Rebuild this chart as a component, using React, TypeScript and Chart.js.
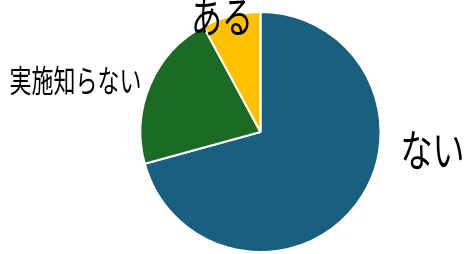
import React, { useEffect, useRef } from "react";
import { Chart, registerables } from "chart.js";

Chart.register(...registerables);

const categories = ["ない", "実施知らない", "ある"];
const values = [70.8, 21.4, 7.9];
const colors = ["#185F80", "#1C6B25", "#FFC000"];

const labelPlugin = {
  id: "pieLabels",
  afterDraw(chart: any) {
    const arc = chart.getDatasetMeta(0).data[0];
    if (!arc) return;
    const cx = arc.x;
    const cy = arc.y;
    const ctx = chart.ctx;
    const specs = [
      { dx: 140, dy: 17.5, align: "left", size: 32 },
      { dx: -119, dy: -51.5, align: "right", size: 22 },
      { dx: -7.5, dy: -115, align: "right", size: 31 },
    ];
    const sy = 1.4;
    ctx.save();
    ctx.fillStyle = "#000";
    ctx.textBaseline = "middle";
    categories.forEach((c, i) => {
      const s = specs[i];
      ctx.save();
      ctx.translate(cx + s.dx, cy + s.dy);
      ctx.scale(1, sy);
      ctx.font = `${s.size}px "Noto Sans CJK JP", "Noto Sans", sans-serif`;
      ctx.textAlign = s.align;
      ctx.fillText(c, 0, 0);
      ctx.restore();
    });
    ctx.restore();
  },
};

export default function App() {
  const ref = useRef<HTMLCanvasElement>(null);
  useEffect(() => {
    document.body.style.margin = "0";
    const chart = new Chart(ref.current!, {
      type: "pie",
      data: {
        labels: categories,
        datasets: [
          {
            data: values,
            backgroundColor: colors,
            borderColor: "#ffffff",
            borderWidth: 2,
          },
        ],
      },
      options: {
        responsive: false,
        animation: false,
        layout: { padding: { left: 51, right: 0, top: 11, bottom: 1 } },
        plugins: { legend: { display: false }, tooltip: { enabled: false } },
      },
      plugins: [labelPlugin],
    });
    return () => chart.destroy();
  }, []);
  return (
    <div style={{ width: 470, height: 254 }}>
      <canvas ref={ref} width={470} height={254} />
    </div>
  );
}
